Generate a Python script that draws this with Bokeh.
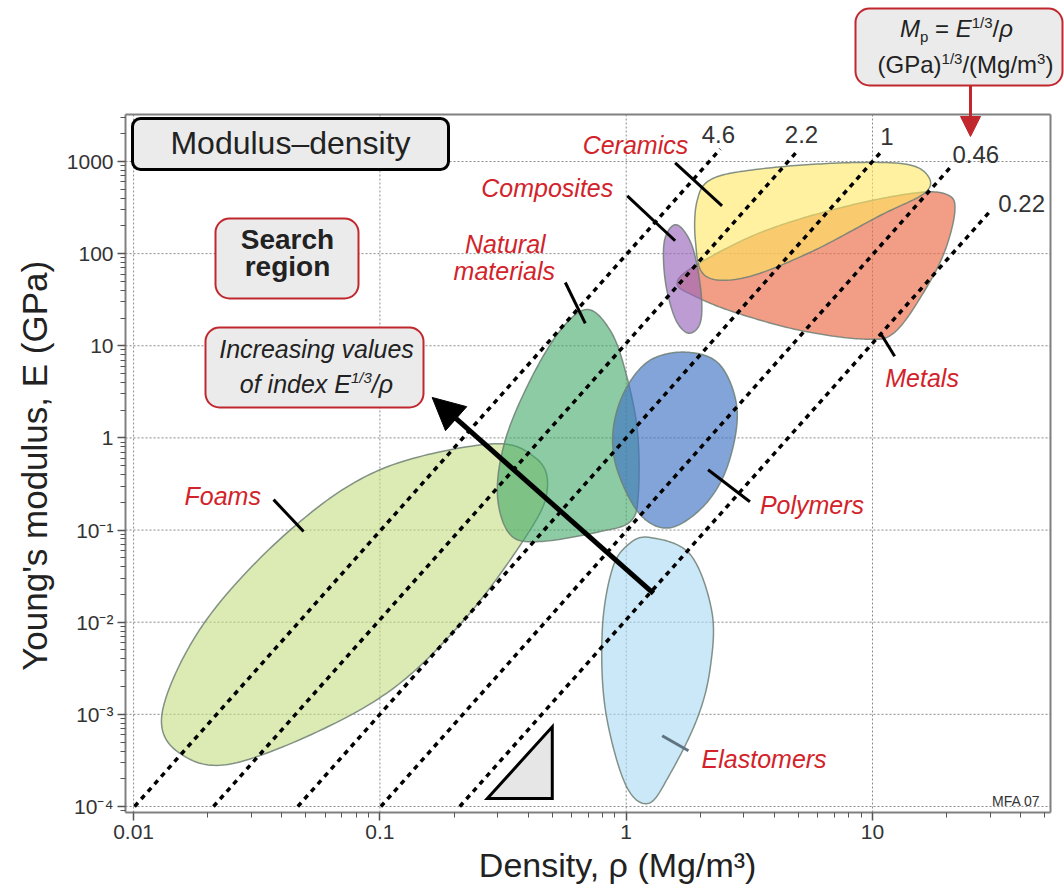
import numpy as np
from bokeh.plotting import figure
from bokeh.models import FixedTicker, Label, Arrow, NormalHead, BoxAnnotation
from bokeh.embed import file_html
from bokeh.resources import INLINE
from bokeh.core.properties import value

FONT = "Liberation Sans"
RED = "#d2232a"
BOX_RED = "#c0282e"
NBSP = "\u00a0"

# ---------------- data ----------------
x_ticks = [0.01, 0.1, 1.0, 10.0]
x_tick_labels = ["0.01", "0.1", "1", "10"]
y_ticks = [1e-4, 1e-3, 1e-2, 1e-1, 1.0, 10.0, 100.0, 1000.0]
y_tick_labels = ["10⁻⁴", "10⁻³", "10⁻²", "10⁻¹", "1", "10", "100", "1000"]

# guide lines  E^(1/3)/rho = C
index_values = [4.6, 2.2, 1.0, 0.46, 0.22]
index_labels = ["4.6", "2.2", "1", "0.46", "0.22"]
index_line_top_E = [1365, 1300, 1230, 850, 277]
index_line_bottom_E = 1e-4

# material family envelopes (density Mg/m3, modulus GPa)
foams_rho = [0.281, 0.428, 0.479, 0.408, 0.212, 0.094, 0.0272, 0.0155, 0.0131, 0.0196, 0.0434, 0.100]
foams_E = [0.86, 0.608, 0.295, 0.101, 0.0095, 0.00136, 0.000306, 0.000374, 0.00109, 0.0103, 0.101, 0.451]

natural_rho = [0.695, 0.861, 0.99, 1.11, 1.12, 1.04, 0.785, 0.448, 0.338, 0.300, 0.323, 0.408, 0.540]
natural_E = [24.8, 14.7, 5.43, 1.22, 0.242, 0.124, 0.0964, 0.0751, 0.0894, 0.242, 0.951, 4.24, 14.7]

polymers_rho = [1.77, 2.41, 2.82, 2.59, 2.09, 1.51, 1.14, 0.919, 0.885, 0.99, 1.25]
polymers_E = [8.51, 6.15, 2.01, 0.511, 0.189, 0.106, 0.147, 0.451, 1.22, 3.30, 6.97]

elastomers_rho = [1.25, 1.82, 2.23, 2.19, 1.94, 1.51, 1.23, 0.99, 0.822, 0.80, 0.877, 1.02]
elastomers_E = [0.083, 0.0543, 0.0128, 0.0031, 0.000894, 0.000228, 0.000108, 0.000177, 0.00115, 0.0084, 0.0374, 0.0697]

metals_rho = [20.2, 21.6, 19.7, 16.3, 12.3, 9.33, 5.08, 2.77, 1.91, 1.61, 1.91, 3.50, 7.38, 14.9]
metals_E = [434, 292, 108, 39.8, 14.0, 11.8, 14.7, 23.0, 34.3, 47.4, 74.2, 169, 314, 456]

ceramics_rho = [2.23, 3.50, 7.38, 13.5, 16.8, 16.3, 10.7, 5.57, 3.04, 2.09, 1.91, 1.94]
ceramics_E = [647, 830, 964, 940, 697, 456, 258, 103, 55.0, 57.8, 138, 374]

composites_rho = [1.60, 1.85, 2.01, 2.0, 1.79, 1.58, 1.44, 1.43]
composites_E = [206, 122, 39.8, 17.9, 13.7, 19.8, 51.1, 138]

# family labels and leader lines
family_names = ["Ceramics", "Composites", "Natural", "materials", "Foams", "Polymers", "Metals", "Elastomers"]
family_label_rho = [1.09, 0.478, 0.323, 0.320, 0.0230, 5.68, 15.9, 3.63]
family_label_E = [1507, 517, 128, 65.5, 0.236, 0.189, 4.45, 0.00033]

leader_rho0 = [1.58, 1.01, 0.566, 0.0370, 2.15, 10.8, 1.40]
leader_E0 = [964, 424, 48.6, 0.214, 0.451, 13.6, 0.000586]
leader_rho1 = [2.45, 1.58, 0.682, 0.0490, 3.18, 12.3, 1.79]
leader_E1 = [330, 138, 17.5, 0.0964, 0.203, 7.70, 0.000403]
leader_colors = ["black"] * 6 + ["#5f7480"]

# slope triangle
tri_rho = [0.273, 0.501, 0.501]
tri_E = [0.000122, 0.000122, 0.000733]

# index arrow (tail -> head)
arrow_rho = [1.29, 0.163]
arrow_E = [0.0205, 2.75]

# ---------------- layout helpers (pixel -> data, for annotations) ----------------
def rho_at(px):
    return 10 ** (1 + (px - 872.0) / 246.3)


def E_at(py):
    return 10 ** (3 + (161.0 - py) / 92.14)


# Arial / Liberation Sans advance widths (1/1000 em)
W = {' ': 278, NBSP: 278, '(': 333, ')': 333, '/': 278, '=': 584, 'E': 667, 'G': 778, 'P': 667,
     'M': 833, 'I': 278, 'a': 556, 'c': 500, 'd': 556, 'e': 556, 'f': 278, 'g': 556, 'i': 222,
     'l': 222, 'm': 833, 'n': 556, 'o': 556, 'p': 556, 'r': 333, 's': 500, 'u': 556, 'v': 500,
     'x': 500, 'ρ': 577}


def tw(s, size):
    return sum(W.get(ch, 556) for ch in s) * size / 1000.0


def smooth_closed(xs, ys, n=24):
    P = np.column_stack([np.log10(xs), np.log10(ys)])
    m = len(P)
    out = []
    for i in range(m):
        p0, p1, p2, p3 = P[(i - 1) % m], P[i], P[(i + 1) % m], P[(i + 2) % m]
        for t in np.linspace(0, 1, n, endpoint=False):
            t2, t3 = t * t, t * t * t
            out.append(0.5 * (2 * p1 + (-p0 + p2) * t + (2 * p0 - 5 * p1 + 4 * p2 - p3) * t2
                              + (-p0 + 3 * p1 - 3 * p2 + p3) * t3))
    out = np.array(out)
    return list(10 ** out[:, 0]), list(10 ** out[:, 1])


p = figure(x_axis_type="log", y_axis_type="log",
           x_range=(rho_at(123), rho_at(1064)), y_range=(E_at(814), E_at(0)),
           frame_width=941, frame_height=814,
           min_border_left=123, min_border_right=0, min_border_top=0, min_border_bottom=82,
           output_backend="svg", toolbar_location=None)
p.background_fill_color = "white"
p.border_fill_color = "white"
p.outline_line_color = None
p.xgrid.visible = False
p.ygrid.visible = False

# axes
minor_x = [m * 10.0 ** k for k in range(-3, 2) for m in range(2, 10) if m * 10.0 ** k < 52]
minor_y = [m * 10.0 ** k for k in range(-5, 4) for m in range(2, 10) if 8.7e-5 < m * 10.0 ** k < 3200]
p.xaxis.ticker = FixedTicker(ticks=x_ticks, minor_ticks=minor_x)
p.yaxis.ticker = FixedTicker(ticks=y_ticks, minor_ticks=minor_y)
p.xaxis.major_label_overrides = dict(zip(x_ticks, x_tick_labels))
p.yaxis.major_label_overrides = dict(zip(y_ticks, y_tick_labels))
for ax in (p.xaxis, p.yaxis):
    ax.major_label_text_font = FONT
    ax.major_label_text_font_size = "21px"
    ax.major_label_text_color = "#333333"
    ax.axis_label_text_font = FONT
    ax.axis_label_text_font_style = "normal"
    ax.axis_label_text_color = "#222222"
    ax.axis_line_color = None
    ax.major_tick_line_color = "#555555"
    ax.minor_tick_line_color = "#555555"
    ax.major_tick_line_width = 1.5
    ax.major_tick_in = 2
    ax.major_tick_out = 6
    ax.minor_tick_in = 2
    ax.minor_tick_out = 3
    ax.major_label_standoff = 4
p.xaxis.axis_label = NBSP * 6 + "Density, ρ  (Mg/m³)"
p.yaxis.axis_label = "Young's modulus, E (GPa)" + NBSP * 12
p.xaxis.axis_label_text_font_size = "34px"
p.yaxis.axis_label_text_font_size = "35px"
p.xaxis.axis_label_standoff = 4
p.yaxis.axis_label_standoff = 10

# frame edges of the chart area
fx0, fx1, fy0, fy1 = rho_at(125), rho_at(1050), E_at(812), E_at(114)

# grid (dotted, decades)
p.segment(x_ticks, [fy0] * 4, x_ticks, [fy1] * 4, line_color="#8a8a8a", line_width=1, line_dash="2 2")
p.segment([fx0] * 8, y_ticks, [fx1] * 8, y_ticks, line_color="#8a8a8a", line_width=1, line_dash="2 2")

# envelopes
envelopes = [
    (foams_rho, foams_E, "#c5dc82", 0.6),
    (natural_rho, natural_E, "#3fa865", 0.6),
    (polymers_rho, polymers_E, "#3f73c4", 0.65),
    (elastomers_rho, elastomers_E, "#a8d8f3", 0.6),
    (metals_rho, metals_E, "#eb6a45", 0.65),
    (ceramics_rho, ceramics_E, "#ffe860", 0.6),
    (composites_rho, composites_E, "#9a66bb", 0.65),
]
for rr, ee, col, a in envelopes:
    sx, sy = smooth_closed(rr, ee)
    p.patch(sx, sy, fill_color=col, fill_alpha=a, line_color="#6e7f74", line_alpha=0.85, line_width=1.5)

# guide lines
gx0, gy0, gx1, gy1 = [], [], [], []
for c, etop in zip(index_values, index_line_top_E):
    gx0.append(index_line_bottom_E ** (1 / 3) / c)
    gy0.append(index_line_bottom_E)
    gx1.append(etop ** (1 / 3) / c)
    gy1.append(etop)
p.segment(gx0, gy0, gx1, gy1, line_color="black", line_width=3.5, line_dash="5 5")
p.text(x=gx1, y=gy1, text=index_labels, x_offset=[-2, 4, 7, 26, 33], y_offset=[-15, -17, -17, -14, -9],
       text_font=value(FONT), text_font_size="24px", text_color="#333333",
       text_align="center", text_baseline="middle")

# slope triangle
p.patch(tri_rho, tri_E, fill_color="#e6e6e6", line_color="black", line_width=3, line_join="miter")

# leader lines
p.segment(leader_rho0, leader_E0, leader_rho1, leader_E1, line_color=leader_colors, line_width=3)

# family labels
p.text(x=family_label_rho, y=family_label_E, text=family_names,
       text_font=value(FONT), text_font_style="italic", text_font_size="25px",
       text_color=RED, text_align="center", text_baseline="middle")

# credit
p.text(x=[48.0], y=[1.16e-4], text=["MFA 07"], text_font=value(FONT), text_font_size="14px",
       text_color="#333333", text_align="right", text_baseline="middle")

# chart frame
p.segment([fx0, fx1, fx0, fx0], [fy0, fy0, fy0, fy1], [fx0, fx1, fx1, fx1], [fy1, fy1, fy0, fy1],
          line_color="#808080", line_width=2)

# big arrow
p.add_layout(Arrow(end=NormalHead(size=32, fill_color="black", line_color="black"),
                   x_start=arrow_rho[0], y_start=arrow_E[0], x_end=arrow_rho[1], y_end=arrow_E[1],
                   line_width=5, line_color="black"))
# red pointer from the index box
p.add_layout(Arrow(end=NormalHead(size=20, fill_color=BOX_RED, line_color=BOX_RED),
                   x_start=rho_at(970), y_start=E_at(84), x_end=rho_at(970), y_end=E_at(136),
                   line_width=3, line_color=BOX_RED))


# boxes
def box(l, r, t, b, line_color, line_width, radius):
    p.add_layout(BoxAnnotation(left=rho_at(l), right=rho_at(r), top=E_at(t), bottom=E_at(b),
                               fill_color="#ebebeb", fill_alpha=1.0, line_color=line_color,
                               line_alpha=1.0, line_width=line_width, border_radius=radius))


BASE_FIX = 0.38  # label boxes sit on the text bottom: shift to the glyph baseline


def runs_line(runs, cx, base):
    total = sum(tw(t, sz) for t, sz, st, dy in runs)
    x = cx - total / 2
    for t, sz, st, dy in runs:
        p.add_layout(Label(x=rho_at(x), y=E_at(base - dy - BASE_FIX * sz), text=t, text_font=FONT,
                           text_font_size=f"{sz}px", text_font_style=st, text_color="#222222",
                           text_align="left", text_baseline="alphabetic"))
        x += tw(t, sz)


def label(text, cx, base, size, style="normal"):
    p.add_layout(Label(x=rho_at(cx), y=E_at(base - BASE_FIX * size), text=text, text_font=FONT,
                       text_font_size=f"{size}px", text_font_style=style, text_color="#222222",
                       text_align="center", text_baseline="alphabetic"))


box(132, 448, 118, 169, "black", 3, 8)
label("Modulus–density", 290, 155, 32)

box(215, 358, 218, 298, BOX_RED, 2, 14)
label("Search", 287, 250, 28, "bold")
label("region", 287, 277, 28, "bold")

box(205, 423, 327, 407, BOX_RED, 2, 14)
runs_line([("Increasing values", 25, "italic", 0)], 316, 358)
runs_line([("of index E", 25, "italic", 0), ("1/3", 15, "italic", 10), ("/ρ", 25, "italic", 0)], 316, 393)

box(855, 1062, 8, 85, BOX_RED, 2, 14)
runs_line([("M", 24, "italic", 0), ("p", 15, "normal", -5), (NBSP + "=" + NBSP, 24, "normal", 0),
           ("E", 24, "italic", 0), ("1/3", 15, "normal", 9), ("/", 24, "normal", 0), ("ρ", 24, "italic", 0)],
          956, 37)
runs_line([("(GPa)", 24, "normal", 0), ("1/3", 15, "normal", 9), ("/(Mg/m", 24, "normal", 0),
           ("3", 15, "normal", 9), (")", 24, "normal", 0)], 965, 73)

open("out.html", "w").write(file_html(p, INLINE))
